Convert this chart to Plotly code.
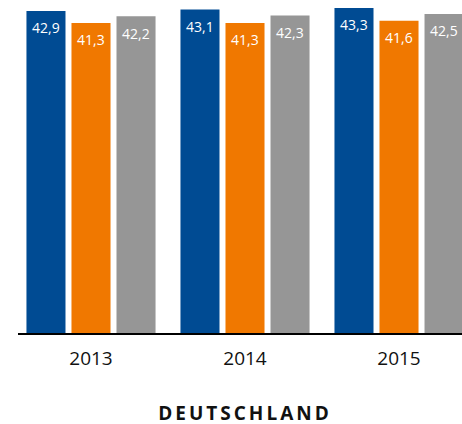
import plotly.graph_objects as go

years = ["2013", "2014", "2015"]
series_a = [42.9, 43.1, 43.3]
series_b = [41.3, 41.3, 41.6]
series_c = [42.2, 42.3, 42.5]
colors = ["#004b93", "#f07800", "#969696"]
title_text = "DEUTSCHLAND"

fig = go.Figure()
all_series = [series_a, series_b, series_c]
for vals, col in zip(all_series, colors):
    fig.add_trace(go.Bar(
        x=years, y=vals, marker=dict(color=col, line=dict(width=0)),
        showlegend=False, hoverinfo="x+y",
    ))

# value labels inside the top of each bar (x given as category index)
slot_px = 45
for i, vals in enumerate(all_series):
    for j, v in enumerate(vals):
        fig.add_annotation(
            x=j, y=v, xref="x", yref="y", xshift=(i - 1) * slot_px, yshift=-17,
            text=f"{v:.1f}".replace(".", ","), showarrow=False,
            font=dict(family="Open Sans", size=14, color="white"),
            xanchor="center", yanchor="middle",
        )

fig.add_annotation(x=1, xref="x", y=0, yref="paper", yshift=-80,
                   text="<span style='letter-spacing:3px'><b>" + title_text + "</b></span>",
                   showarrow=False, width=230, align="center",
                   font=dict(family="Open Sans", size=19, color="#111111"),
                   xanchor="center", yanchor="middle")

fig.update_layout(
    width=462, height=424, margin=dict(l=18, r=0, t=0, b=91),
    barmode="group", bargap=0.123, bargroupgap=0.133,
    plot_bgcolor="white", paper_bgcolor="white",
    separators=",.",
    xaxis=dict(type="category", range=[-0.474, 2.409], showline=True,
               linecolor="black", linewidth=1.5, ticks="outside", ticklen=7,
               tickcolor="rgba(0,0,0,0)",
               tickfont=dict(family="Open Sans", size=19, color="#111111"),
               showgrid=False, zeroline=False),
    yaxis=dict(range=[0, 44.36], visible=False, showgrid=False),
)
fig.write_html("out.html", config={"displayModeBar": False},
               post_script="document.body.style.margin='0';")
